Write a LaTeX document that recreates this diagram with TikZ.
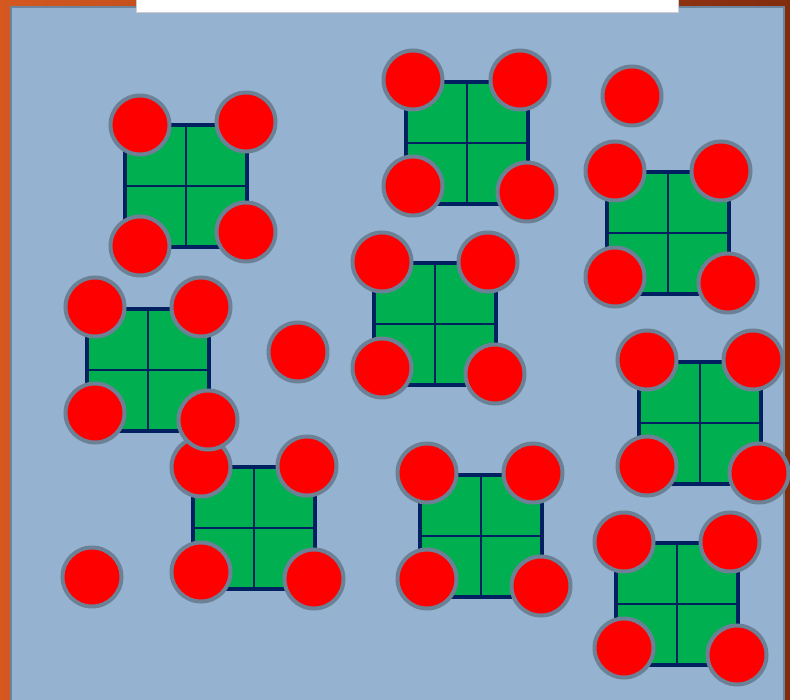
\documentclass[tikz,border=0pt]{standalone}
\usepackage{tikz}

\definecolor{panelblue}{RGB}{149,179,209}
\definecolor{panelrim}{RGB}{108,132,156}
\definecolor{cellgreen}{RGB}{0,176,80}
\definecolor{cellnavy}{RGB}{0,32,96}
\definecolor{ballrim}{RGB}{108,129,150}
\definecolor{rustA}{RGB}{212,88,32}
\definecolor{rustB}{RGB}{130,44,14}

% one green tile with its cross
\newcommand{\tile}[2]{%
  \draw[cell] (#1,#2) rectangle +(122,122);
  \draw[cellgrid] (#1+61,#2) -- +(0,122) (#1,#2+61) -- +(122,0);
}

\begin{document}
\begin{tikzpicture}[x=1pt, y=-1pt,
    cell/.style={fill=cellgreen, draw=cellnavy, line width=4pt},
    cellgrid/.style={draw=cellnavy, line width=2pt},
    ball/.style={fill=red, draw=ballrim, line width=4pt}]
\useasboundingbox (0,0) rectangle (790,700);
% backdrop and panel
\shade[left color=rustA, right color=rustB] (0,0) rectangle (790,700);
\draw[fill=panelblue, draw=panelrim, line width=2.5pt] (11,7) rectangle (784,712);
\draw[fill=white, draw=gray!40, line width=1pt] (136,-3) rectangle (678,13);
% tile A
\tile{125}{125}
\foreach \p in {(140,125),(246,122),(140,246),(246,232)} \draw[ball] \p circle (29.5pt);
% tile B
\tile{406}{82}
\foreach \p in {(413,80),(520,80),(413,186),(527,192)} \draw[ball] \p circle (29.5pt);
% tile C
\tile{607}{172}
\foreach \p in {(615,171),(721,171),(615,277),(728,283)} \draw[ball] \p circle (29.5pt);
% tile D
\tile{374}{263}
\foreach \p in {(382,262),(488,262),(382,368),(495,374)} \draw[ball] \p circle (29.5pt);
% tile F (below E, so first)
\tile{193}{467}
\foreach \p in {(201,467),(307,466),(201,572),(314,579)} \draw[ball] \p circle (29.5pt);
% tile E
\tile{87}{309}
\foreach \p in {(95,307),(201,307),(95,413),(208,420)} \draw[ball] \p circle (29.5pt);
% tile G
\tile{420}{475}
\foreach \p in {(427,473),(533,473),(427,579),(541,586)} \draw[ball] \p circle (29.5pt);
% tile H
\tile{639}{362}
\foreach \p in {(647,360),(753,360),(647,466),(759,473)} \draw[ball] \p circle (29.5pt);
% tile I
\tile{616}{543}
\foreach \p in {(624,542),(730,542),(624,648),(737,655)} \draw[ball] \p circle (29.5pt);
% loose balls
\foreach \p in {(632,96),(298,352),(92,577)} \draw[ball] \p circle (29.5pt);
\end{tikzpicture}
\end{document}
